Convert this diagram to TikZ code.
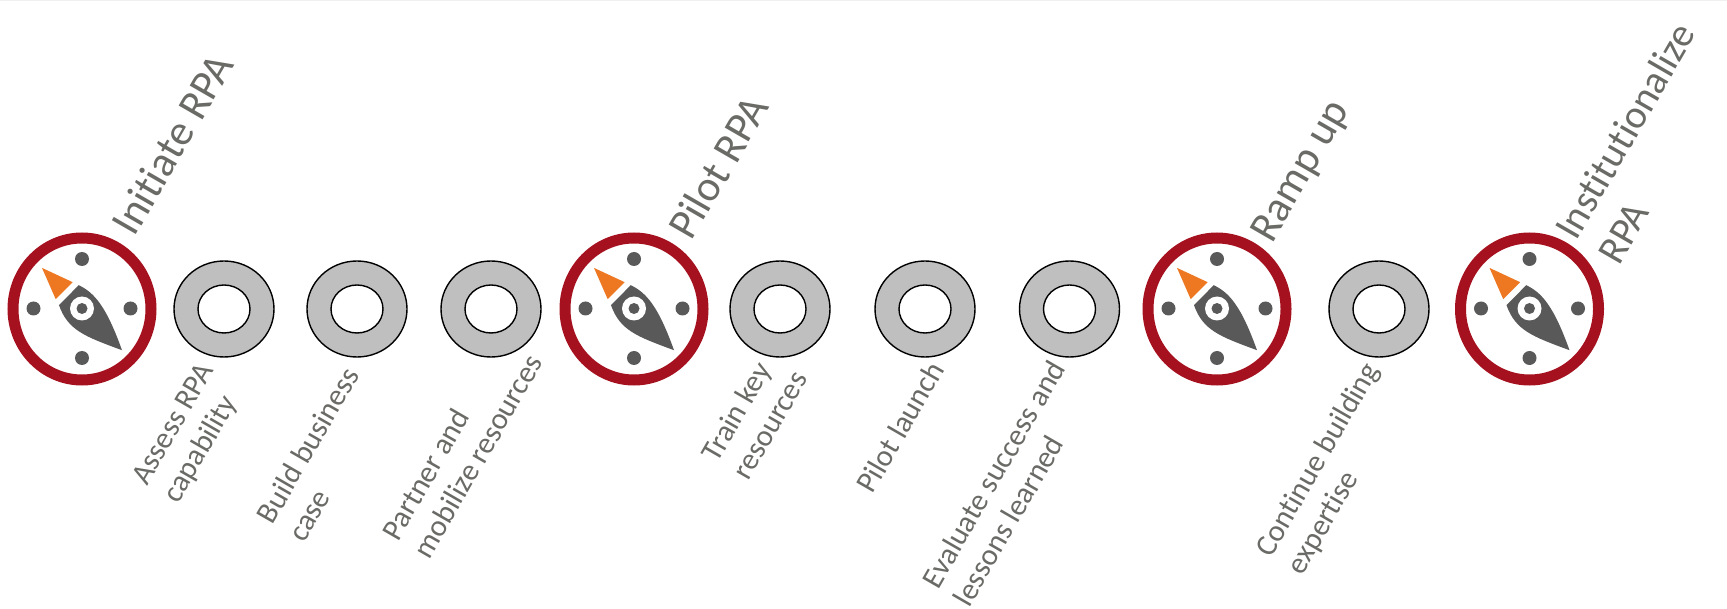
\documentclass[tikz,border=0pt]{standalone}
\usepackage{fontspec}
\setmainfont[Ligatures=NoCommon]{Carlito}
\definecolor{ringred}{HTML}{A6111F}
\definecolor{needlegray}{HTML}{595959}
\definecolor{arroworange}{HTML}{EE7722}
\definecolor{labelgray}{HTML}{6A6A66}
\definecolor{donutgray}{HTML}{BFBFBF}
\usetikzlibrary{shapes.geometric}
\tikzset{
  x=1pt,y=-1pt,
  ringnode/.style={ellipse,draw=ringred,line width=11pt,fill=white,minimum width=138pt,minimum height=142pt,inner sep=0pt},
  donutnode/.style={ellipse,draw=black,line width=1.4pt,fill=donutgray,minimum width=100pt,minimum height=96pt,inner sep=0pt},
  holenode/.style={ellipse,draw=black,line width=1.4pt,fill=white,minimum width=52pt,minimum height=48pt,inner sep=0pt},
  phaselabel/.style={rotate=60,text=labelgray,font=\fontsize{43}{49}\selectfont,align=left,inner sep=0pt},
  longphaselabel/.style={phaselabel,font=\fontsize{40}{49}\selectfont},
  steplabel/.style={rotate=60,text=labelgray,font=\fontsize{30.3}{36}\selectfont,align=left,inner sep=0pt},
  dotnode/.style={circle,fill=needlegray,minimum size=14pt,inner sep=0pt},
}
\newcommand{\compassmark}[2]{%
  \node[ringnode] (ring#1) at (#2,309) {};
  \begin{scope}[shift={(#2,308.5)}]
    \node[dotnode] (ring#1n) at (0,-49.5) {};
    \node[dotnode] (ring#1s) at (0,49.5) {};
    \node[dotnode] (ring#1w) at (-48.5,0) {};
    \node[dotnode] (ring#1e) at (48.5,0) {};
    \fill[arroworange] (-40,-40.6) -- (-9.3,-26.3) -- (-26.3,-9.3) -- cycle;
    \fill[needlegray] (-3.3,-23.3) .. controls (12,-16) and (24,-3) .. (40,41.7)
       .. controls (3,28) and (-14,22) .. (-23,-3.3) -- cycle;
    \fill[white] (0,0) circle (12);
    \fill[needlegray] (0,0) circle (5.5);
  \end{scope}}
\newcommand{\donutmark}[2]{%
  \node[donutnode] (donut#1) at (#2,309) {};
  \node[holenode] (hole#1) at (#2,309) {};}
\begin{document}
\begin{tikzpicture}
\useasboundingbox (0,0) rectangle (1727,609);
\fill[white] (0,0) rectangle (1727,609);
\fill[black!6] (0,0) rectangle (1727,1);
\compassmark{a}{82}
\compassmark{b}{634}
\compassmark{c}{1217}
\compassmark{d}{1529.5}
\donutmark{a}{224}
\donutmark{b}{357}
\donutmark{c}{491}
\donutmark{d}{780}
\donutmark{e}{925}
\donutmark{f}{1069.5}
\donutmark{g}{1379}
\node[phaselabel] (t1) at (172,144) {Initiate RPA};
\node[phaselabel] (t2) at (718,167) {Pilot RPA};
\node[phaselabel] (t3) at (1302,172) {Ramp up};
\node[longphaselabel] (t4) at (1646,143) {Institutionalize\\RPA};
\node[steplabel] (s1) at (190,434) {Assess RPA\\capability};
\node[steplabel] (s2) at (323,454) {Build business\\case};
\node[steplabel] (s3) at (462,447) {Partner and\\mobilize resources};
\node[steplabel] (s4) at (754,416) {Train key\\resources};
\node[steplabel] (s5) at (900,427) {Pilot launch};
\node[steplabel] (s6) at (1009,483) {Evaluate success and\\lessons learned};
\node[steplabel] (s7) at (1334,469) {Continue building\\expertise};
\end{tikzpicture}
\end{document}
